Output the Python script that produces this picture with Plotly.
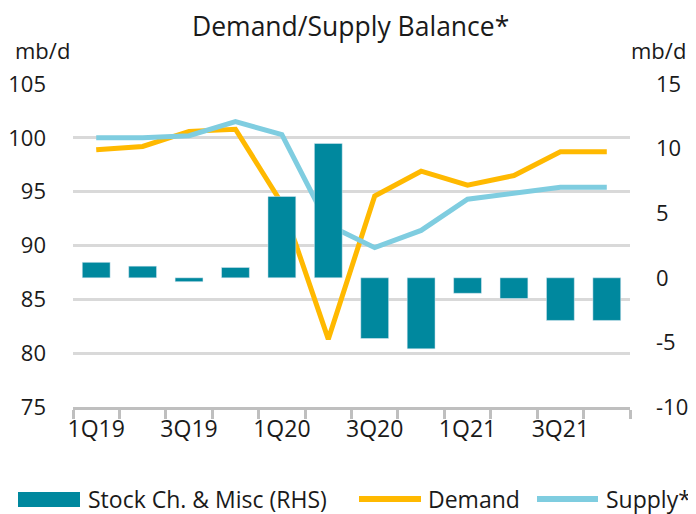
import plotly.graph_objects as go

# Data
quarters = ['1Q19', '2Q19', '3Q19', '4Q19', '1Q20', '2Q20',
            '3Q20', '4Q20', '1Q21', '2Q21', '3Q21', '4Q21']
tick_labels = ['1Q19', '', '3Q19', '', '1Q20', '', '3Q20', '', '1Q21', '', '3Q21', '']
demand = [98.9, 99.2, 100.6, 100.8, 93.9, 81.3, 94.6, 96.9, 95.6, 96.5, 98.7, 98.7]
supply = [100.0, 100.0, 100.2, 101.5, 100.3, 91.9, 89.8, 91.4, 94.3, 94.8, 95.4, 95.4]
stock_change = [1.2, 0.9, -0.3, 0.8, 6.3, 10.4, -4.7, -5.5, -1.2, -1.6, -3.3, -3.3]
rhs_ticks = [-10, -5, 0, 5, 10, 15]

COLORS = {
    'stock': '#00889E',
    'demand': '#FFB900',
    'supply': '#7FCDE0',
    'grid': '#D9D9D9',
    'axis': '#BFBFBF',
    'text': '#1A1A1A',
}
FONT = 'Open Sans'

# the page puts the figure 8px in from the top-left corner
OFF = 8
W, H = 696 - OFF, 514 - OFF
L, R, T, B = 65, 66, 76, 107


def px_x(px):
    # page pixel -> paper x
    return (px - OFF - L) / (W - L - R)


def px_y(py):
    # page pixel -> paper y
    return (H - B - (py - OFF)) / (H - T - B)


fig = go.Figure()

fig.add_trace(go.Bar(
    x=quarters, y=stock_change, yaxis='y2',
    marker_color=COLORS['stock'], name='Stock Ch. & Misc (RHS)'
))
fig.add_trace(go.Scatter(
    x=quarters, y=demand, mode='lines',
    line=dict(color=COLORS['demand'], width=5), name='Demand'
))
fig.add_trace(go.Scatter(
    x=quarters, y=supply, mode='lines',
    line=dict(color=COLORS['supply'], width=5), name='Supply*'
))

fig.update_layout(
    width=W, height=H,
    margin=dict(l=L, r=R, t=T, b=B, autoexpand=False),
    plot_bgcolor='white', paper_bgcolor='white',
    font=dict(family=FONT, size=22, color=COLORS['text']),
    showlegend=False,
    bargap=0.4,
    xaxis=dict(
        tickmode='array', tickvals=quarters, ticktext=tick_labels,
        tickson='boundaries', ticks='outside', ticklen=9, tickwidth=2.5,
        tickcolor=COLORS['axis'], showline=True, linecolor=COLORS['axis'],
        linewidth=2.5, showgrid=False, tickangle=0, automargin=False,
        tickfont=dict(size=23),
    ),
    yaxis=dict(
        range=[75, 105], dtick=5, showgrid=True, gridcolor=COLORS['grid'],
        gridwidth=2.5, zeroline=False, ticklabelstandoff=26, automargin=False,
        tickfont=dict(size=22),
    ),
    yaxis2=dict(
        range=[-10, 15], tickmode='array', tickvals=rhs_ticks,
        ticktext=[str(v) for v in rhs_ticks], overlaying='y', side='right',
        showgrid=False, zeroline=False, ticklabelstandoff=25, automargin=False,
        tickfont=dict(size=22),
    ),
)

# Title and unit labels
fig.add_annotation(text='Demand/Supply Balance*', x=px_x(350), y=px_y(26),
                   xref='paper', yref='paper', xanchor='center', yanchor='middle',
                   showarrow=False, font=dict(size=26.5))
fig.add_annotation(text='mb/d', x=px_x(42), y=px_y(50), xref='paper', yref='paper',
                   xanchor='center', yanchor='middle', showarrow=False,
                   font=dict(size=22))
fig.add_annotation(text='mb/d', x=px_x(658), y=px_y(50), xref='paper', yref='paper',
                   xanchor='center', yanchor='middle', showarrow=False,
                   font=dict(size=22))

# Legend drawn by hand to match the wide swatches
fig.add_shape(type='rect', xref='paper', yref='paper',
              x0=px_x(18), x1=px_x(80), y0=px_y(507), y1=px_y(492),
              fillcolor=COLORS['stock'], line_width=0)
fig.add_shape(type='line', xref='paper', yref='paper',
              x0=px_x(359), x1=px_x(421), y0=px_y(499), y1=px_y(499),
              line=dict(color=COLORS['demand'], width=6))
fig.add_shape(type='line', xref='paper', yref='paper',
              x0=px_x(537), x1=px_x(598), y0=px_y(499), y1=px_y(499),
              line=dict(color=COLORS['supply'], width=6))
for label, x0 in [('Stock Ch. & Misc (RHS)', 86), ('Demand', 426), ('Supply*', 604)]:
    fig.add_annotation(text=label, x=px_x(x0), y=px_y(499), xref='paper', yref='paper',
                       xanchor='left', yanchor='middle', showarrow=False,
                       font=dict(size=23))

fig.write_html('out.html')
